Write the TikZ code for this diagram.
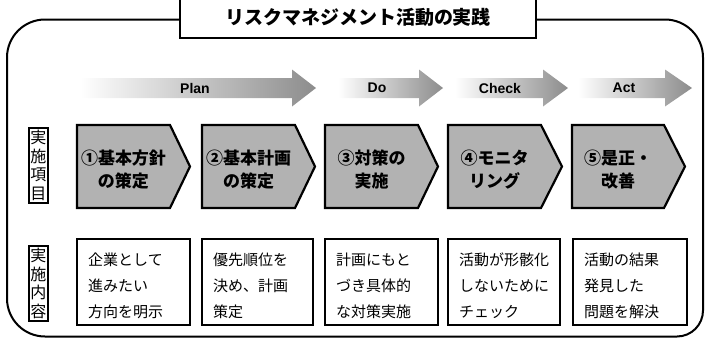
\documentclass[tikz,border=0pt]{standalone}
\usepackage{fontspec}
\setmainfont{Noto Sans CJK JP}
\newfontfamily\latinb{Liberation Sans}
\tikzset{
  frameline/.style={line width=2pt},
  titlebox/.style={draw, line width=2pt, fill=white, minimum width=356pt, minimum height=41pt, inner sep=0pt,
    font=\bfseries\fontsize{19}{19}\selectfont},
  arrowshade/.style={left color=white, right color=black!45},
  arrowtxt/.style={font=\latinb\bfseries\fontsize{14}{14}\selectfont, inner sep=0pt},
  pentshape/.style={draw, line width=2.2pt, fill=black!30},
  penttxt/.style={align=center, inner sep=0pt, font=\bfseries\fontsize{17}{23}\selectfont},
  labelbox/.style={draw, line width=1.4pt, fill=white, minimum width=19pt, minimum height=75pt, inner xsep=1pt, inner ysep=0pt,
    align=center, font=\fontsize{16}{18.5}\selectfont},
  contentbox/.style={draw, line width=2.2pt, fill=white, inner sep=0pt},
  contenttxt/.style={anchor=west, align=left, inner sep=0pt, font=\fontsize{15}{26}\selectfont}
}
\newcommand{\pdcaarrow}[3]{%
  \shade[arrowshade] (#1,78) -- (#2,78) -- (#2,69.5) -- (#3,88) -- (#2,106.5) -- (#2,98) -- (#1,98) -- cycle;}
\newcommand{\pentbox}[5]{%
  \filldraw[pentshape] (#1,125) -- (#2,125) -- (#3,166.5) -- (#2,208) -- (#1,208) -- cycle;
  \node[penttxt] (#4) at ({(#1+#2)/2},169.5) {#5};}
\newcommand{\cbox}[4]{%
  \draw[contentbox] (#1,239) rectangle (#2,325);
  \node[contenttxt] (#3) at (#1+11,286) {#4};}
\begin{document}
\begin{tikzpicture}[x=1pt,y=-1pt]
\useasboundingbox (0,0) rectangle (705,338);
% outer frame
\draw[frameline, rounded corners=38pt] (200,19.5) -- (7,19.5) -- (7,336.5)
  [rounded corners=26pt] -- (703,336.5) [rounded corners=38pt] -- (703,19.5) -- (520,19.5);
% title
\node[titlebox] (title) at (358,17) {リスクマネジメント活動の実践};
% PDCA arrows
\pdcaarrow{80}{292}{316}
\node[arrowtxt] (plan) at (195,88) {Plan};
\pdcaarrow{338}{419}{443}
\node[arrowtxt] (do) at (377,88) {Do};
\pdcaarrow{455}{543}{568}
\node[arrowtxt] (check) at (500,88) {Check};
\pdcaarrow{578}{665}{692}
\node[arrowtxt] (act) at (624,88) {Act};
% row 1
\node[labelbox] (lab1) at (38.5,165.5) {実\\施\\項\\目};
\pentbox{77}{170}{190}{p1}{①基本方針\\の策定}
\pentbox{202}{295}{315}{p2}{②基本計画\\の策定}
\pentbox{325}{418}{438}{p3}{③対策の\\実施}
\pentbox{448}{541}{562}{p4}{④モニタ\\リング}
\pentbox{572}{664}{685}{p5}{⑤是正・\\改善}
% row 2
\node[labelbox] (lab2) at (38.5,283.5) {実\\施\\内\\容};
\cbox{77}{190}{c1}{企業として\\進みたい\\方向を明示}
\cbox{202}{313}{c2}{優先順位を\\決め、計画\\策定}
\cbox{325}{438}{c3}{計画にもと\\づき具体的\\な対策実施}
\cbox{448}{560}{c4}{活動が形骸化\\しないために\\チェック}
\cbox{573}{687}{c5}{活動の結果\\発見した\\問題を解決}
\end{tikzpicture}
\end{document}
